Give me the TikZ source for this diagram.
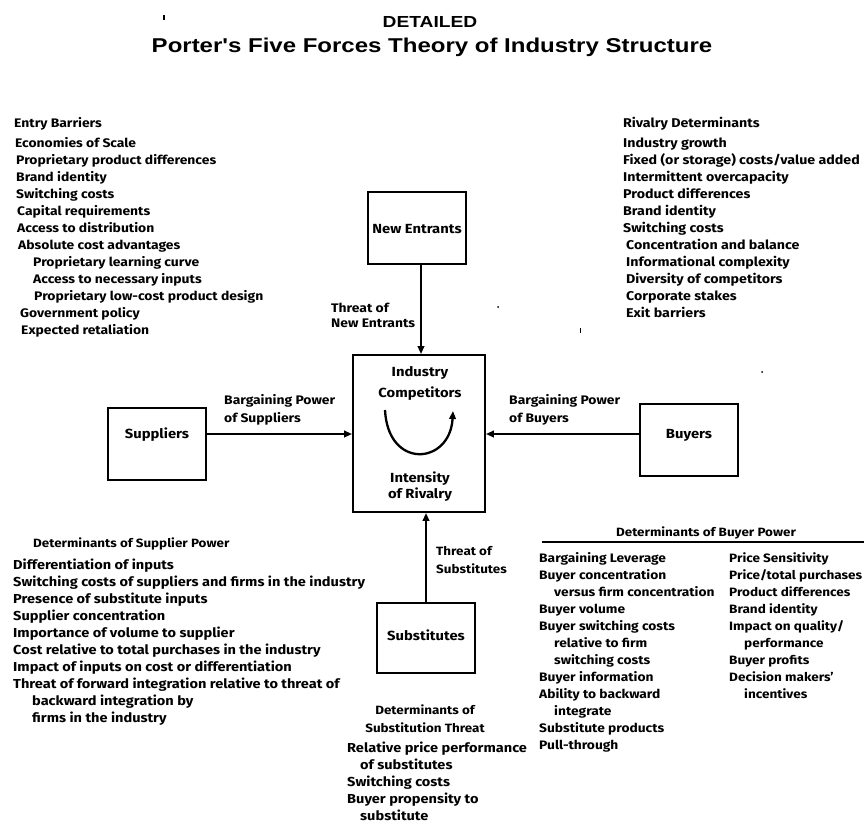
\documentclass[tikz,border=0pt]{standalone}
\usepackage{fontspec}
\setmainfont{Fira Sans}[FakeStretch=1.12]
\newfontfamily\headfont{Liberation Sans}[FakeStretch=1.2]
\usetikzlibrary{arrows.meta}
\newcommand{\fsz}[1]{\bfseries\fontsize{#1}{15}\selectfont}
\begin{document}
\begin{tikzpicture}[x=1pt,y=-1pt,
  itemtxt/.style={font=\fsz{#1}, inner sep=0pt, anchor=base west},
  itemtxt/.default=13,
  midtxt/.style={font=\fsz{12}, inner sep=0pt, anchor=base},
  boxtxt/.style={font=\fsz{13.2}, inner sep=0pt, anchor=base},
  forcebox/.style={draw, line width=1.8pt, minimum width=98pt, minimum height=72pt, inner sep=0pt},
  push/.style={line width=2.3pt, -{Triangle[length=8pt,width=6.5pt]}},
  speck/.style={fill=black}]
\useasboundingbox (0,0) rectangle (864,825);
\fill[white] (0,0) rectangle (864,825);

% ---------- title ----------
\node[font=\headfont\bfseries\fontsize{16}{18}\selectfont, inner sep=0pt, anchor=base] (detailed) at (430,27) {DETAILED};
\node[font=\headfont\bfseries\fontsize{20}{22}\selectfont, inner sep=0pt, anchor=base] (title) at (432,52) {Porter's Five Forces Theory of Industry Structure};

% ---------- the five forces ----------
\node[forcebox, minimum width=132pt, minimum height=157pt] (core) at (419,433.5) {};
\node[forcebox] (newent) at (417,228) {};
\node[forcebox] (sup) at (157,444) {};
\node[forcebox] (buy) at (689,440) {};
\node[forcebox, minimum height=70pt] (subst) at (426,638) {};

\node[boxtxt] (newentlab) at (417,233) {New Entrants};
\node[boxtxt] (suplab) at (157,438) {Suppliers};
\node[boxtxt] (buylab) at (689,438) {Buyers};
\node[boxtxt] (substlab) at (426,640) {Substitutes};

\node[boxtxt] (ind1) at (420,376) {Industry};
\node[boxtxt] (ind2) at (420,397) {Competitors};
\node[boxtxt] (riv1) at (420,482) {Intensity};
\node[boxtxt] (riv2) at (420,498) {of Rivalry};

% rivalry loop inside the core box
\coordinate (loopa) at (385,410);
\coordinate (loopb) at (453,411);
\draw[push] (loopa) .. controls (388,470) and (450,465) .. (loopb);

% force arrows
\draw[push] (newent.south -| 421,0) -- (core.north -| 421,0);
\draw[push] (sup.east |- 0,434) -- (core.west |- 0,434);
\draw[push] (buy.west |- 0,434) -- (core.east |- 0,434);
\draw[push] (subst.north -| 426,0) -- (core.south -| 426,0);

% arrow labels
\node[itemtxt=12.4] (thne1) at (331,312) {Threat of};
\node[itemtxt=12.4] (thne2) at (331,327) {New Entrants};
\node[itemtxt=12.4] (bps1) at (224,404) {Bargaining Power};
\node[itemtxt=12.4] (bps2) at (224,422) {of Suppliers};
\node[itemtxt=12.4] (bpb1) at (509,404) {Bargaining Power};
\node[itemtxt=12.4] (bpb2) at (509,422) {of Buyers};
\node[itemtxt=12] (ths1) at (436,555) {Threat of};
\node[itemtxt=12] (ths2) at (436,573) {Substitutes};

% ---------- entry barriers ----------
\node[itemtxt=12.4] (ebhead) at (14,127) {Entry Barriers};
\foreach \dx/\t [count=\i from 0] in {15/Economies of Scale, 16/Proprietary product differences,
  16/Brand identity, 16/Switching costs, 17/Capital requirements, 17/Access to distribution,
  18/Absolute cost advantages, 33/Proprietary learning curve, 33/Access to necessary inputs,
  34/Proprietary low-cost product design, 20/Government policy, 21/Expected retaliation}
  \node[itemtxt=12.4] (eb\i) at (\dx,147+17*\i) {\t};

% ---------- rivalry determinants ----------
\node[itemtxt=12.7] (rdhead) at (623,127) {Rivalry Determinants};
\foreach \dx/\t [count=\i from 0] in {623/Industry growth, 623/{Fixed (or storage) costs/value added},
  623/Intermittent overcapacity, 623/Product differences, 623/Brand identity, 623/Switching costs,
  626/Concentration and balance, 626/Informational complexity, 626/Diversity of competitors,
  626/Corporate stakes, 626/Exit barriers}
  \node[itemtxt=12.7] (rd\i) at (\dx,147+17*\i) {\t};

% ---------- determinants of supplier power ----------
\node[itemtxt=12] (sphead) at (33,547) {Determinants of Supplier Power};
\foreach \dx/\t [count=\i from 0] in {13/Differentiation of inputs,
  13/Switching costs of suppliers and firms in the industry, 13/Presence of substitute inputs,
  13/Supplier concentration, 13/Importance of volume to supplier,
  13/Cost relative to total purchases in the industry, 13/Impact of inputs on cost or differentiation,
  13/Threat of forward integration relative to threat of, 32/backward integration by,
  32/firms in the industry}
  \node[itemtxt] (sp\i) at (\dx,569+17*\i) {\t};

% ---------- determinants of buyer power ----------
\node[midtxt] (bphead) at (706,536) {Determinants of Buyer Power};
\draw[line width=1.6pt] (542,542) -- (864,542);
\foreach \dx/\t [count=\i from 0] in {539/Bargaining Leverage, 539/Buyer concentration,
  554/versus firm concentration, 539/Buyer volume, 539/Buyer switching costs,
  554/relative to firm, 554/switching costs, 539/Buyer information, 539/Ability to backward,
  554/integrate, 539/Substitute products, 539/Pull-through}
  \node[itemtxt=12.3] (bl\i) at (\dx,562+17*\i) {\t};
\foreach \dx/\t [count=\i from 0] in {729/Price Sensitivity, 729/{Price/total purchases},
  729/Product differences, 729/Brand identity, 729/{Impact on quality/}, 744/performance,
  729/Buyer profits, 729/Decision makers', 744/incentives}
  \node[itemtxt=12.1] (br\i) at (\dx,562+17*\i) {\t};

% ---------- determinants of substitution threat ----------
\node[midtxt] (sthead1) at (425,714) {Determinants of};
\node[midtxt] (sthead2) at (425,732) {Substitution Threat};
\foreach \dx/\t [count=\i from 0] in {347/Relative price performance, 360/of substitutes,
  347/Switching costs, 347/Buyer propensity to, 360/substitute}
  \node[itemtxt] (st\i) at (\dx,752+17*\i) {\t};

% ---------- small specks on the sheet ----------
\fill[speck] (163,15) rectangle (165,20);
\fill[speck] (498,307) circle (1pt);
\fill[speck] (580,328) rectangle (581,333);
\fill[speck] (762,372) circle (1pt);
\end{tikzpicture}
\end{document}
